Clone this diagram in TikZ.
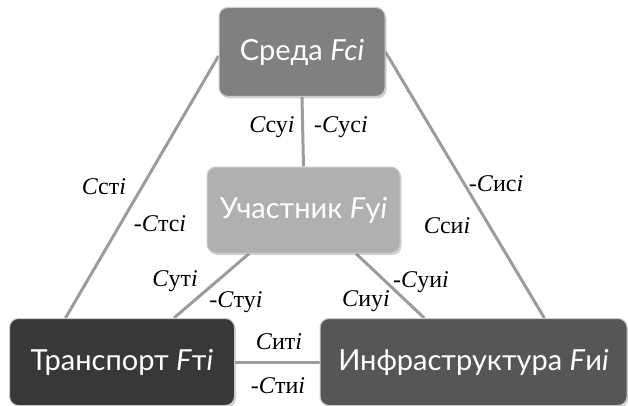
\documentclass[tikz,border=0pt]{standalone}
\usepackage{fontspec}
\setmainfont{Liberation Serif}
\newfontfamily\boxfont{Lato}
\usetikzlibrary{calc,shadows,backgrounds}
\definecolor{linkgray}{HTML}{9C9C9C}
\definecolor{midgray}{HTML}{808080}
\definecolor{lightgray}{HTML}{B0B0B0}
\definecolor{darkgray}{HTML}{383838}
\definecolor{deepgray}{HTML}{565656}
\tikzset{
  factor/.style={draw=white!80!black, line width=1pt, rounded corners=9pt,
    text=white, font=\boxfont\fontsize{29}{32}\selectfont,
    inner sep=0pt, align=center,
    drop shadow={shadow xshift=1.5pt, shadow yshift=-2pt, opacity=0.35}},
  link/.style={draw=linkgray, line width=3pt},
  lbl/.style={font=\fontsize{24}{26}\selectfont, inner sep=1pt}
}
\begin{document}
\begin{tikzpicture}[x=1pt, y=-1pt]
\useasboundingbox (0,0) rectangle (628,406);

% the four factor boxes
\node[factor, fill=midgray, minimum width=166pt, minimum height=89pt] (sreda) at (302,52) {Среда \textit{Fci}};
\node[factor, fill=lightgray, minimum width=193pt, minimum height=86pt] (uch) at (303.5,210) {Участник \textit{F}у\textit{i}};
\node[factor, fill=darkgray, minimum width=225pt, minimum height=87pt] (trans) at (122,362) {Транспорт \textit{F}т\textit{i}};
\node[factor, fill=deepgray, minimum width=307pt, minimum height=87pt] (infra) at (473.5,362) {Инфраструктура \textit{F}и\textit{i}};

% connectors between the factors
\begin{scope}[on background layer]
  \coordinate (tA) at ($(trans.north west)!0.25!(trans.north east)$);
  \coordinate (tB) at ($(trans.north west)!0.73!(trans.north east)$);
  \coordinate (iA) at ($(infra.north west)!0.34!(infra.north east)$);
  \coordinate (iB) at ($(infra.north west)!0.73!(infra.north east)$);
  \coordinate (uA) at ($(uch.south west)!0.22!(uch.south east)$);
  \coordinate (uB) at ($(uch.south west)!0.77!(uch.south east)$);
  \coordinate (sA) at ($(sreda.west)+(0,4)$);
  \draw[link] (sA) -- (tA);
  \draw[link] (sreda.east) -- (iB);
  \draw[link] (sreda.south) -- (uch.north);
  \draw[link] (uA) -- (tB);
  \draw[link] (uB) -- (iA);
  \draw[link] (trans.east) -- (infra.east -| infra.west);
\end{scope}

% coupling labels
\node[lbl] (l1) at (272,127) {\textit{C}су\textit{i}};
\node[lbl] (l2) at (341,127) {-\textit{C}ус\textit{i}};
\node[lbl] (l3) at (104,187) {\textit{C}ст\textit{i}};
\node[lbl] (l4) at (160,224) {-\textit{C}тс\textit{i}};
\node[lbl] (l5) at (496,184) {-\textit{C}ис\textit{i}};
\node[lbl] (l6) at (447,226) {\textit{C}си\textit{i}};
\node[lbl] (l7) at (175,281) {\textit{C}ут\textit{i}};
\node[lbl] (l8) at (236,302) {-\textit{C}ту\textit{i}};
\node[lbl] (l9) at (421,282) {-\textit{C}уи\textit{i}};
\node[lbl] (l10) at (366,301) {\textit{C}иу\textit{i}};
\node[lbl] (l11) at (279,342) {\textit{C}ит\textit{i}};
\node[lbl] (l12) at (278,386) {-\textit{C}ти\textit{i}};
\end{tikzpicture}
\end{document}
